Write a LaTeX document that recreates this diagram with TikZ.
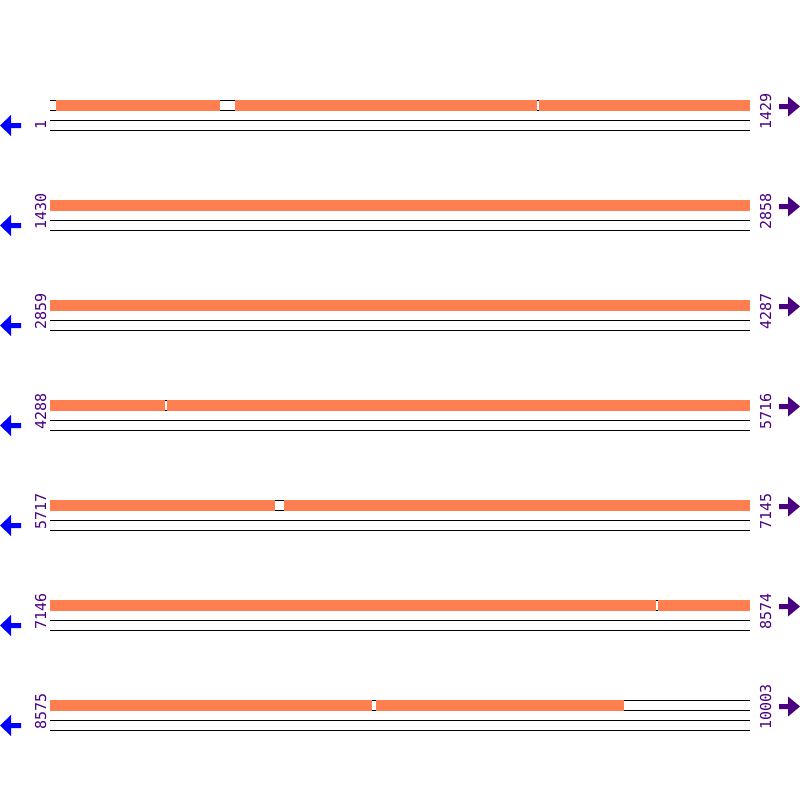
\documentclass[tikz,border=0pt]{standalone}
\usepackage{fontspec}
\setmonofont{DejaVu Sans Mono}
\definecolor{seg}{HTML}{FF7F50}
\definecolor{lbl}{HTML}{4B0082}
\begin{document}
\begin{tikzpicture}[x=1pt,y=-1pt,
  rule/.style={black,line width=1pt},
  segbox/.style={fill=seg,draw=none},
  numlbl/.style={rotate=90,anchor=base west,inner sep=0pt,text=lbl,font=\ttfamily\fontsize{15}{15}\selectfont},
  larrow/.style={fill=blue,draw=none},
  rarrow/.style={fill=lbl,draw=none}]
\useasboundingbox (0,0) rectangle (800,800);
\foreach \r/\a/\b/\segs in {
  1/1/1429/{56/220,235/537,539/750},
  2/1430/2858/{50/750},
  3/2859/4287/{50/750},
  4/4288/5716/{50/165,167/750},
  5/5717/7145/{50/275,284/750},
  6/7146/8574/{50/656,658/750},
  7/8575/10003/{50/372,376/624}}{
  \pgfmathsetmacro{\yo}{100*\r}
  \draw[rule] (50,\yo+0.5) -- (750,\yo+0.5);
  \draw[rule] (50,\yo+10.5) -- (750,\yo+10.5);
  \draw[rule] (50,\yo+20.5) -- (750,\yo+20.5);
  \draw[rule] (50,\yo+30.5) -- (750,\yo+30.5);
  \foreach \s/\e in \segs {
    \fill[segbox] (\s,\yo) rectangle (\e,\yo+11);
  }
  \node[numlbl] (left\r) at (46,\yo+30) {\a};
  \node[numlbl] (right\r) at (771,\yo+30) {\b};
  \fill[larrow] (0,\yo+25.5) -- (11,\yo+15) -- (11,\yo+23) -- (21,\yo+23) -- (21,\yo+28) -- (11,\yo+28) -- (11,\yo+36) -- cycle;
  \fill[rarrow] (800,\yo+6.5) -- (788,\yo-3.5) -- (788,\yo+4) -- (779,\yo+4) -- (779,\yo+9) -- (788,\yo+9) -- (788,\yo+16.5) -- cycle;
}
\end{tikzpicture}
\end{document}
